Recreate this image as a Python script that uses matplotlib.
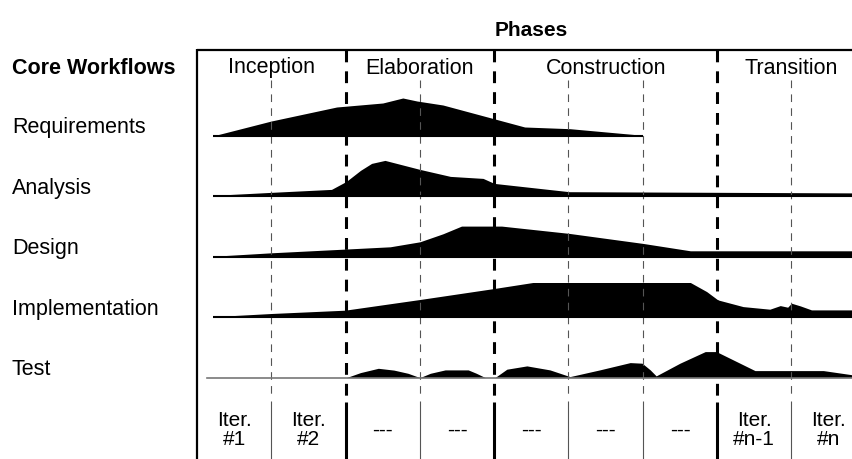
import matplotlib
matplotlib.use("Agg")
import matplotlib.pyplot as plt

plt.rcParams["font.family"] = ["Liberation Sans", "DejaVu Sans"]
plt.rcParams["lines.scale_dashes"] = False

# --- data ---------------------------------------------------------------
PHASES = ["Inception", "Elaboration", "Construction", "Transition"]
PHASE_ITERS = [2, 2, 3, 2]          # iterations in each phase
WORKFLOWS = ["Requirements", "Analysis", "Design", "Implementation", "Test"]
ITER_LABELS = ["Iter.\n#1", "Iter.\n#2", "---", "---", "---", "---", "---",
               "Iter.\n#n-1", "Iter.\n#n"]

# effort profiles: x in iterations from project start, effort in arbitrary units
REQ_X = [0.21, 1.0, 1.88, 2.5, 2.77, 2.96, 3.31, 4.41, 5.02, 6.0]
REQ_H = [0, 15, 29, 33, 38, 35, 31, 9, 7.3, 0.7]

ANA_X = [0.21, 1.07, 1.81, 2.01, 2.2, 2.35, 2.53, 3.0, 3.41, 3.85, 4.0, 5.01, 8.83]
ANA_H = [1, 4.3, 7, 15, 26, 33, 36, 27, 20, 18, 13, 4.7, 3.5]

DES_X = [0.21, 1.0, 1.99, 2.6, 3.0, 3.31, 3.56, 4.1, 5.01, 6.0, 6.64, 8.83]
DES_H = [0.5, 4, 7.7, 10, 15, 23, 30.7, 30.7, 23.4, 13.4, 6, 6]

IMP_X = [0.21, 1.0, 1.99, 3.0, 4.0, 4.52, 6.64, 6.86, 7.01, 7.35, 7.71,
         7.85, 7.95, 8.0, 8.12, 8.27, 8.83]
IMP_H = [0.5, 3.7, 7, 17.7, 28.7, 34.7, 34.7, 25.6, 17.3, 10.6, 8,
         11.6, 10, 14, 11.3, 7.3, 7.3]

TEST_X = [2.01, 2.2, 2.44, 2.65, 2.84, 3.0, 3.14, 3.34, 3.65, 3.76, 3.88,
          4.01, 4.17, 4.44, 4.75, 5.02, 5.42, 5.83, 5.99, 6.1, 6.18, 6.5,
          6.84, 6.99, 7.51, 8.43, 8.83]
TEST_H = [0, 5, 9.3, 7.5, 4.3, 0, 4.3, 7.7, 7.7, 4.3, 0,
          0, 8.4, 11.7, 7.7, 1, 7.7, 15, 14.4, 7.7, 1.7, 14.4,
          26, 26, 7, 7, 2.7]

PROFILES = [(REQ_X, REQ_H), (ANA_X, ANA_H), (DES_X, DES_H),
            (IMP_X, IMP_H), (TEST_X, TEST_H)]

# --- layout (pixels) ------------------------------------------------------
W, H = 853, 459
X0 = 197.0          # left edge of the box
ITER_W = 74.3       # width of one iteration column
TOP = 49.5
BOTTOM_ROW = 400.0
BASE0 = 136.0
ROW_STEP = 60.4


def u(px):
    return (px - X0) / ITER_W


fig = plt.figure(figsize=(W / 100, H / 100), dpi=100)
ax = fig.add_axes([0, 0, 1, 1])
ax.set_xlim(u(0), u(W))
ax.set_ylim(H, 0)
ax.axis("off")
xmax = u(W)

# frame
ax.plot([0, xmax], [TOP, TOP], color="black", lw=1.6, solid_capstyle="butt")
ax.plot([0, 0], [TOP - 0.8, H], color="black", lw=1.6, solid_capstyle="butt")

# phase and iteration boundaries
n_iter = sum(PHASE_ITERS)
phase_bounds = []
acc = 0
for n in PHASE_ITERS[:-1]:
    acc += n
    phase_bounds.append(acc)
for k in range(1, n_iter):
    if k in phase_bounds:
        ax.plot([k, k], [TOP, BOTTOM_ROW - 4], color="black", lw=2.2,
                dashes=(8.5, 6.5), dash_capstyle="butt")
        ax.plot([k, k], [BOTTOM_ROW + 2, H], color="black", lw=2.2,
                solid_capstyle="butt")
    else:
        ax.plot([k, k], [80, BOTTOM_ROW - 4], color="#555555", lw=0.8,
                dashes=(5.5, 4.5), dash_capstyle="butt")
        ax.plot([k, k], [BOTTOM_ROW + 1, H], color="#555555", lw=0.8,
                solid_capstyle="butt")

# workflow humps
for i, (xs, hs) in enumerate(PROFILES):
    base = BASE0 + ROW_STEP * i
    top = [base - h for h in hs]
    ax.fill_between(xs, [base] * len(xs), top, color="black", lw=0)
    if i == len(PROFILES) - 1:
        ax.plot([u(207), xmax], [base, base], color="#777777", lw=1.2)
    else:
        ax.plot([xs[0], xs[-1]], [base, base], color="black", lw=1.5,
                solid_capstyle="butt")
    ax.text(u(12), base - 8, WORKFLOWS[i], fontsize=15.5, ha="left",
            va="center")

# headers
ax.text(u(12), 68, "Core Workflows", fontsize=15.5, fontweight="bold",
        ha="left", va="center")
ax.text((0 + n_iter) / 2, 30, "Phases", fontsize=15, fontweight="bold",
        ha="center", va="center")
start = 0
for name, n in zip(PHASES, PHASE_ITERS):
    ax.text(start + n / 2, 68, name, fontsize=15.5, ha="center", va="center")
    start += n

# iteration labels
for k, lab in enumerate(ITER_LABELS):
    ax.text(k + 0.5, 430, lab, fontsize=15, ha="center", va="center",
            linespacing=1.05)

fig.savefig("out.png", dpi=100)
